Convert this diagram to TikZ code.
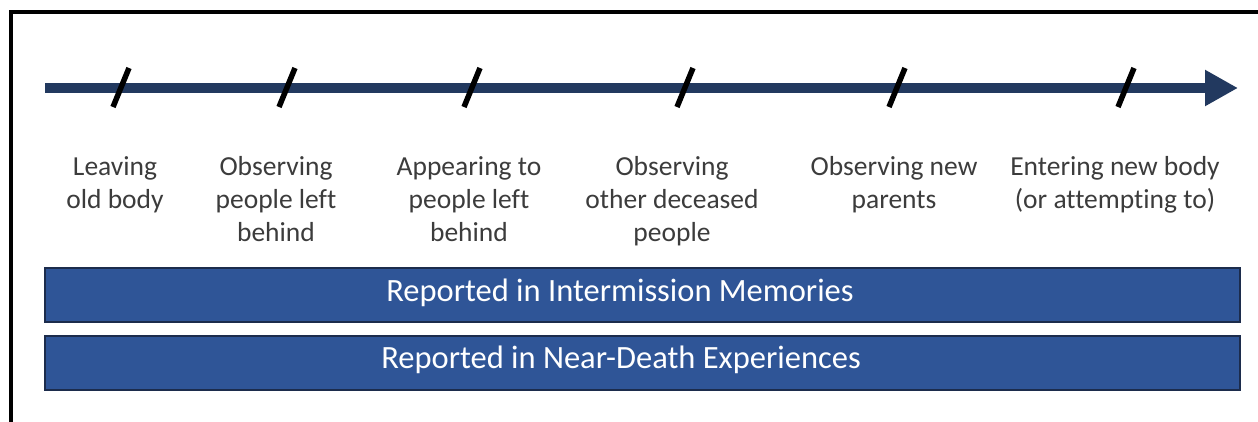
\documentclass[tikz,border=0pt]{standalone}
\usepackage{fontspec}
\setmainfont{Carlito}[Ligatures=NoCommon]
\usetikzlibrary{arrows.meta}
\definecolor{navy}{HTML}{22395F}
\definecolor{barblue}{HTML}{2F5597}
\definecolor{bardark}{HTML}{1C2C4C}
\definecolor{labgray}{HTML}{3C3C3C}
\begin{document}
\begin{tikzpicture}[x=1pt,y=-1pt,
  ticklbl/.style={align=center,anchor=base,inner sep=0pt,text=labgray,
    font=\fontsize{27.5}{33}\selectfont},
  tickmark/.style={line width=5.5pt,black},
  barbox/.style={draw=bardark,line width=1.5pt,fill=barblue,minimum width=1195pt,
    minimum height=54pt,inner sep=0pt},
  bartext/.style={text=white,anchor=base,inner sep=0pt,font=\fontsize{32.5}{36}\selectfont},
  timeline/.style={navy,line width=10pt,-{Triangle[length=33pt,width=34pt]}}]
\useasboundingbox (0,0) rectangle (1258,421);
\clip (0,0) rectangle (1258,421);
\fill[white] (0,0) rectangle (1258,421);
\draw[line width=4pt] (11,12) rectangle (1300,470);
% timeline
\coordinate (tlstart) at (45,88);
\coordinate (tlend) at (1238,88);
\draw[timeline] (tlstart) -- (tlend);
% ticks
\foreach \x [count=\i] in {121,287,472,685,897,1126}{
  \coordinate (tb\i) at (\x-8,107);
  \coordinate (tt\i) at (\x+8,68);
  \draw[tickmark] (tb\i) -- (tt\i);
}
% labels (anchor = baseline of last line; first line baseline at 175)
\node[ticklbl] (l1) at (115,208) {Leaving\\old body};
\node[ticklbl] (l2) at (276,241) {Observing\\people left\\behind};
\node[ticklbl] (l3) at (469,241) {Appearing to\\people left\\behind};
\node[ticklbl] (l4) at (672,241) {Observing\\other deceased\\people};
\node[ticklbl] (l5) at (894,208) {Observing new\\parents};
\node[ticklbl] (l6) at (1115,208) {Entering new body\\(or attempting to)};
% bars
\node[barbox] (b1) at (642.5,295) {};
\node[barbox] (b2) at (642.5,363) {};
\node[bartext] (t1) at (620,301) {Reported in Intermission Memories};
\node[bartext] (t2) at (621,368) {Reported in Near-Death Experiences};
\end{tikzpicture}
\end{document}
